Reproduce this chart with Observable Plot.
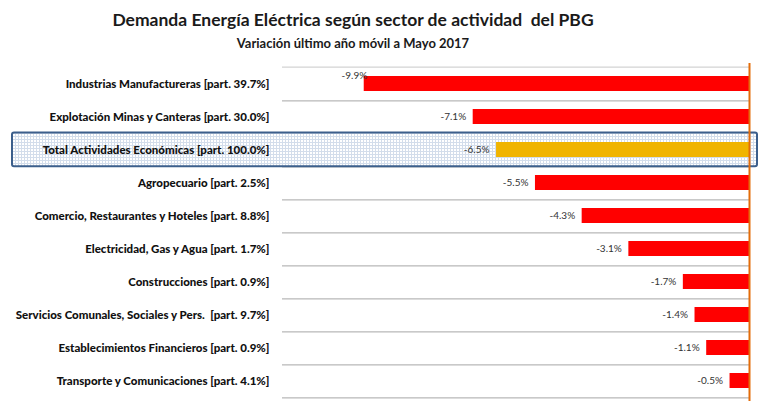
<!DOCTYPE html>
<html><head><meta charset="utf-8">
<script src="https://cdn.jsdelivr.net/npm/d3@7"></script>
<script src="https://cdn.jsdelivr.net/npm/@observablehq/plot@0.6"></script>
<style>
body{margin:0;background:#fff;font-family:Lato,sans-serif;}
#wrap{width:772px;height:408px;position:relative;overflow:hidden;background:#fff}
.t{position:absolute;left:0;width:706px;text-align:center;font-weight:bold;color:#1a1a1a;white-space:nowrap}
#chart{position:absolute;left:0;top:52px}
</style></head><body>
<div id="wrap">
<div class="t" style="top:8px;font-size:17.5px;line-height:24px">Demanda Energía Eléctrica según sector de actividad&nbsp; del PBG</div>
<div class="t" style="top:34px;font-size:13px;line-height:18px">Variación último año móvil a Mayo 2017</div>
<div id="chart"></div>
</div>
<script>
const sectors = [
  "Industrias Manufactureras",
  "Explotación Minas y Canteras",
  "Total Actividades Económicas",
  "Agropecuario",
  "Comercio, Restaurantes y Hoteles",
  "Electricidad, Gas y Agua",
  "Construcciones",
  "Servicios Comunales, Sociales y Pers. ",
  "Establecimientos Financieros",
  "Transporte y Comunicaciones"
];
const shares = [39.7, 30.0, 100.0, 2.5, 8.8, 1.7, 0.9, 9.7, 0.9, 4.1];
const variation = [-9.9, -7.1, -6.5, -5.5, -4.3, -3.1, -1.7, -1.4, -1.1, -0.5];
const totalSector = "Total Actividades Económicas";
const xDomain = [-12, 0];

const labels = sectors.map((s, i) => `${s} [part. ${shares[i].toFixed(1)}%]`);
const rows = sectors.map((s, i) => ({label: labels[i], value: variation[i], total: s === totalSector}));
const totalLabel = rows.find(d => d.total).label;
const fmt = v => `${v.toFixed(1)}%`;

const step = 33.8;
const chart = Plot.plot({
  width: 772, height: 356,
  marginLeft: 282, marginRight: 23, marginTop: 11, marginBottom: 7,
  x: {domain: xDomain, axis: null},
  y: {domain: labels, paddingInner: 0.55, paddingOuter: 0.275, axis: null},
  style: {fontFamily: "Lato, sans-serif", background: "white"},
  marks: [
    Plot.ruleY(labels, {y: d => d, dy: step / 2, stroke: "#a6a6a6", strokeWidth: 1}),
    Plot.ruleY([labels[0]], {y: d => d, dy: -step / 2, stroke: "#c8c8c8", strokeWidth: 1}),
    Plot.barX([{label: totalLabel, x1: xDomain[0], x2: 0}], {
      y: "label", x1: "x1", x2: "x2", fill: "url(#dots)", stroke: "#3c5f8c", strokeWidth: 2,
      insetLeft: -270, insetRight: -8, insetTop: -9.5, insetBottom: -9.3, rx: 2
    }),
    Plot.barX(rows, {y: "label", x: "value", fill: d => d.total ? "#f0b400" : "#ff0000"}),
    Plot.ruleX([0], {stroke: "#e36c09", strokeWidth: 2}),
    Plot.text(labels, {y: d => d, frameAnchor: "left", textAnchor: "end", dx: -13, fontWeight: 900, fontSize: 11.5, fill: "#111"}),
    Plot.text(rows.filter((d, i) => i !== 0), {y: "label", x: "value", text: d => fmt(d.value), textAnchor: "end", dx: -7, fontSize: 10, fill: "#333"}),
    Plot.text(rows.filter((d, i) => i === 0), {y: "label", x: "value", text: d => fmt(d.value), textAnchor: "end", dx: 3, dy: -8, fontSize: 10, fill: "#333"})
  ]
});
const ns = "http://www.w3.org/2000/svg";
const defs = document.createElementNS(ns, "defs");
defs.innerHTML = `<pattern id="dots" width="3" height="3" patternUnits="userSpaceOnUse"><rect width="3" height="3" fill="#ffffff"/><rect width="3" height="1" fill="#d3ddeb"/><rect width="1" height="3" fill="#d3ddeb"/></pattern>`;
chart.insertBefore(defs, chart.firstChild);
document.getElementById("chart").appendChild(chart);
</script>
</body></html>
